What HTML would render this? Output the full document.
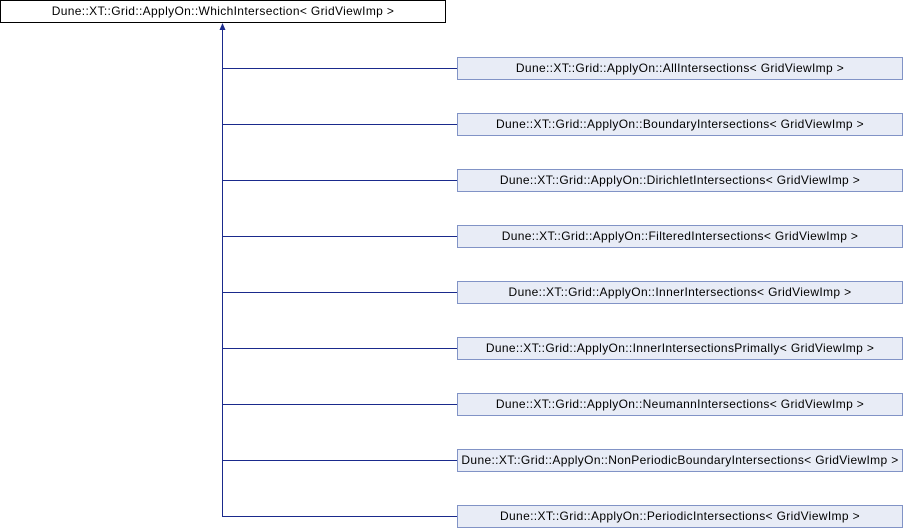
<!DOCTYPE html>
<html><head><style>
body{margin:0;width:904px;height:528px;background:#fff;position:relative;overflow:hidden;font-family:"Liberation Sans",Arial,sans-serif;font-size:12px;letter-spacing:0.35px}
.b{position:absolute;box-sizing:border-box;height:23px;line-height:21px;text-align:center;white-space:nowrap;color:#000}
.c{left:457px;width:446px;background:#e8ecf6;border:1px solid #8193c6}
.t{left:0;top:0;width:446px;background:#fff;border:1px solid #000}
</style></head><body>
<svg width="904" height="528" style="position:absolute;left:0;top:0">
<g stroke="#1a2a8c" stroke-width="1" fill="none">
<line x1="222.5" y1="28" x2="222.5" y2="516.5"/>
<line x1="222" y1="68.5" x2="457" y2="68.5"/>
<line x1="222" y1="124.5" x2="457" y2="124.5"/>
<line x1="222" y1="180.5" x2="457" y2="180.5"/>
<line x1="222" y1="236.5" x2="457" y2="236.5"/>
<line x1="222" y1="292.5" x2="457" y2="292.5"/>
<line x1="222" y1="348.5" x2="457" y2="348.5"/>
<line x1="222" y1="404.5" x2="457" y2="404.5"/>
<line x1="222" y1="460.5" x2="457" y2="460.5"/>
<line x1="222" y1="516.5" x2="457" y2="516.5"/>
</g>
<polygon points="222.5,23 219.5,30 225.5,30" fill="#1a2a8c"/>
</svg>
<div class="b t">Dune::XT::Grid::ApplyOn::WhichIntersection&lt; GridViewImp &gt;</div>
<div class="b c" style="top:57px">Dune::XT::Grid::ApplyOn::AllIntersections&lt; GridViewImp &gt;</div>
<div class="b c" style="top:113px">Dune::XT::Grid::ApplyOn::BoundaryIntersections&lt; GridViewImp &gt;</div>
<div class="b c" style="top:169px">Dune::XT::Grid::ApplyOn::DirichletIntersections&lt; GridViewImp &gt;</div>
<div class="b c" style="top:225px">Dune::XT::Grid::ApplyOn::FilteredIntersections&lt; GridViewImp &gt;</div>
<div class="b c" style="top:281px">Dune::XT::Grid::ApplyOn::InnerIntersections&lt; GridViewImp &gt;</div>
<div class="b c" style="top:337px">Dune::XT::Grid::ApplyOn::InnerIntersectionsPrimally&lt; GridViewImp &gt;</div>
<div class="b c" style="top:393px">Dune::XT::Grid::ApplyOn::NeumannIntersections&lt; GridViewImp &gt;</div>
<div class="b c" style="top:449px">Dune::XT::Grid::ApplyOn::NonPeriodicBoundaryIntersections&lt; GridViewImp &gt;</div>
<div class="b c" style="top:505px">Dune::XT::Grid::ApplyOn::PeriodicIntersections&lt; GridViewImp &gt;</div>
</body></html>
